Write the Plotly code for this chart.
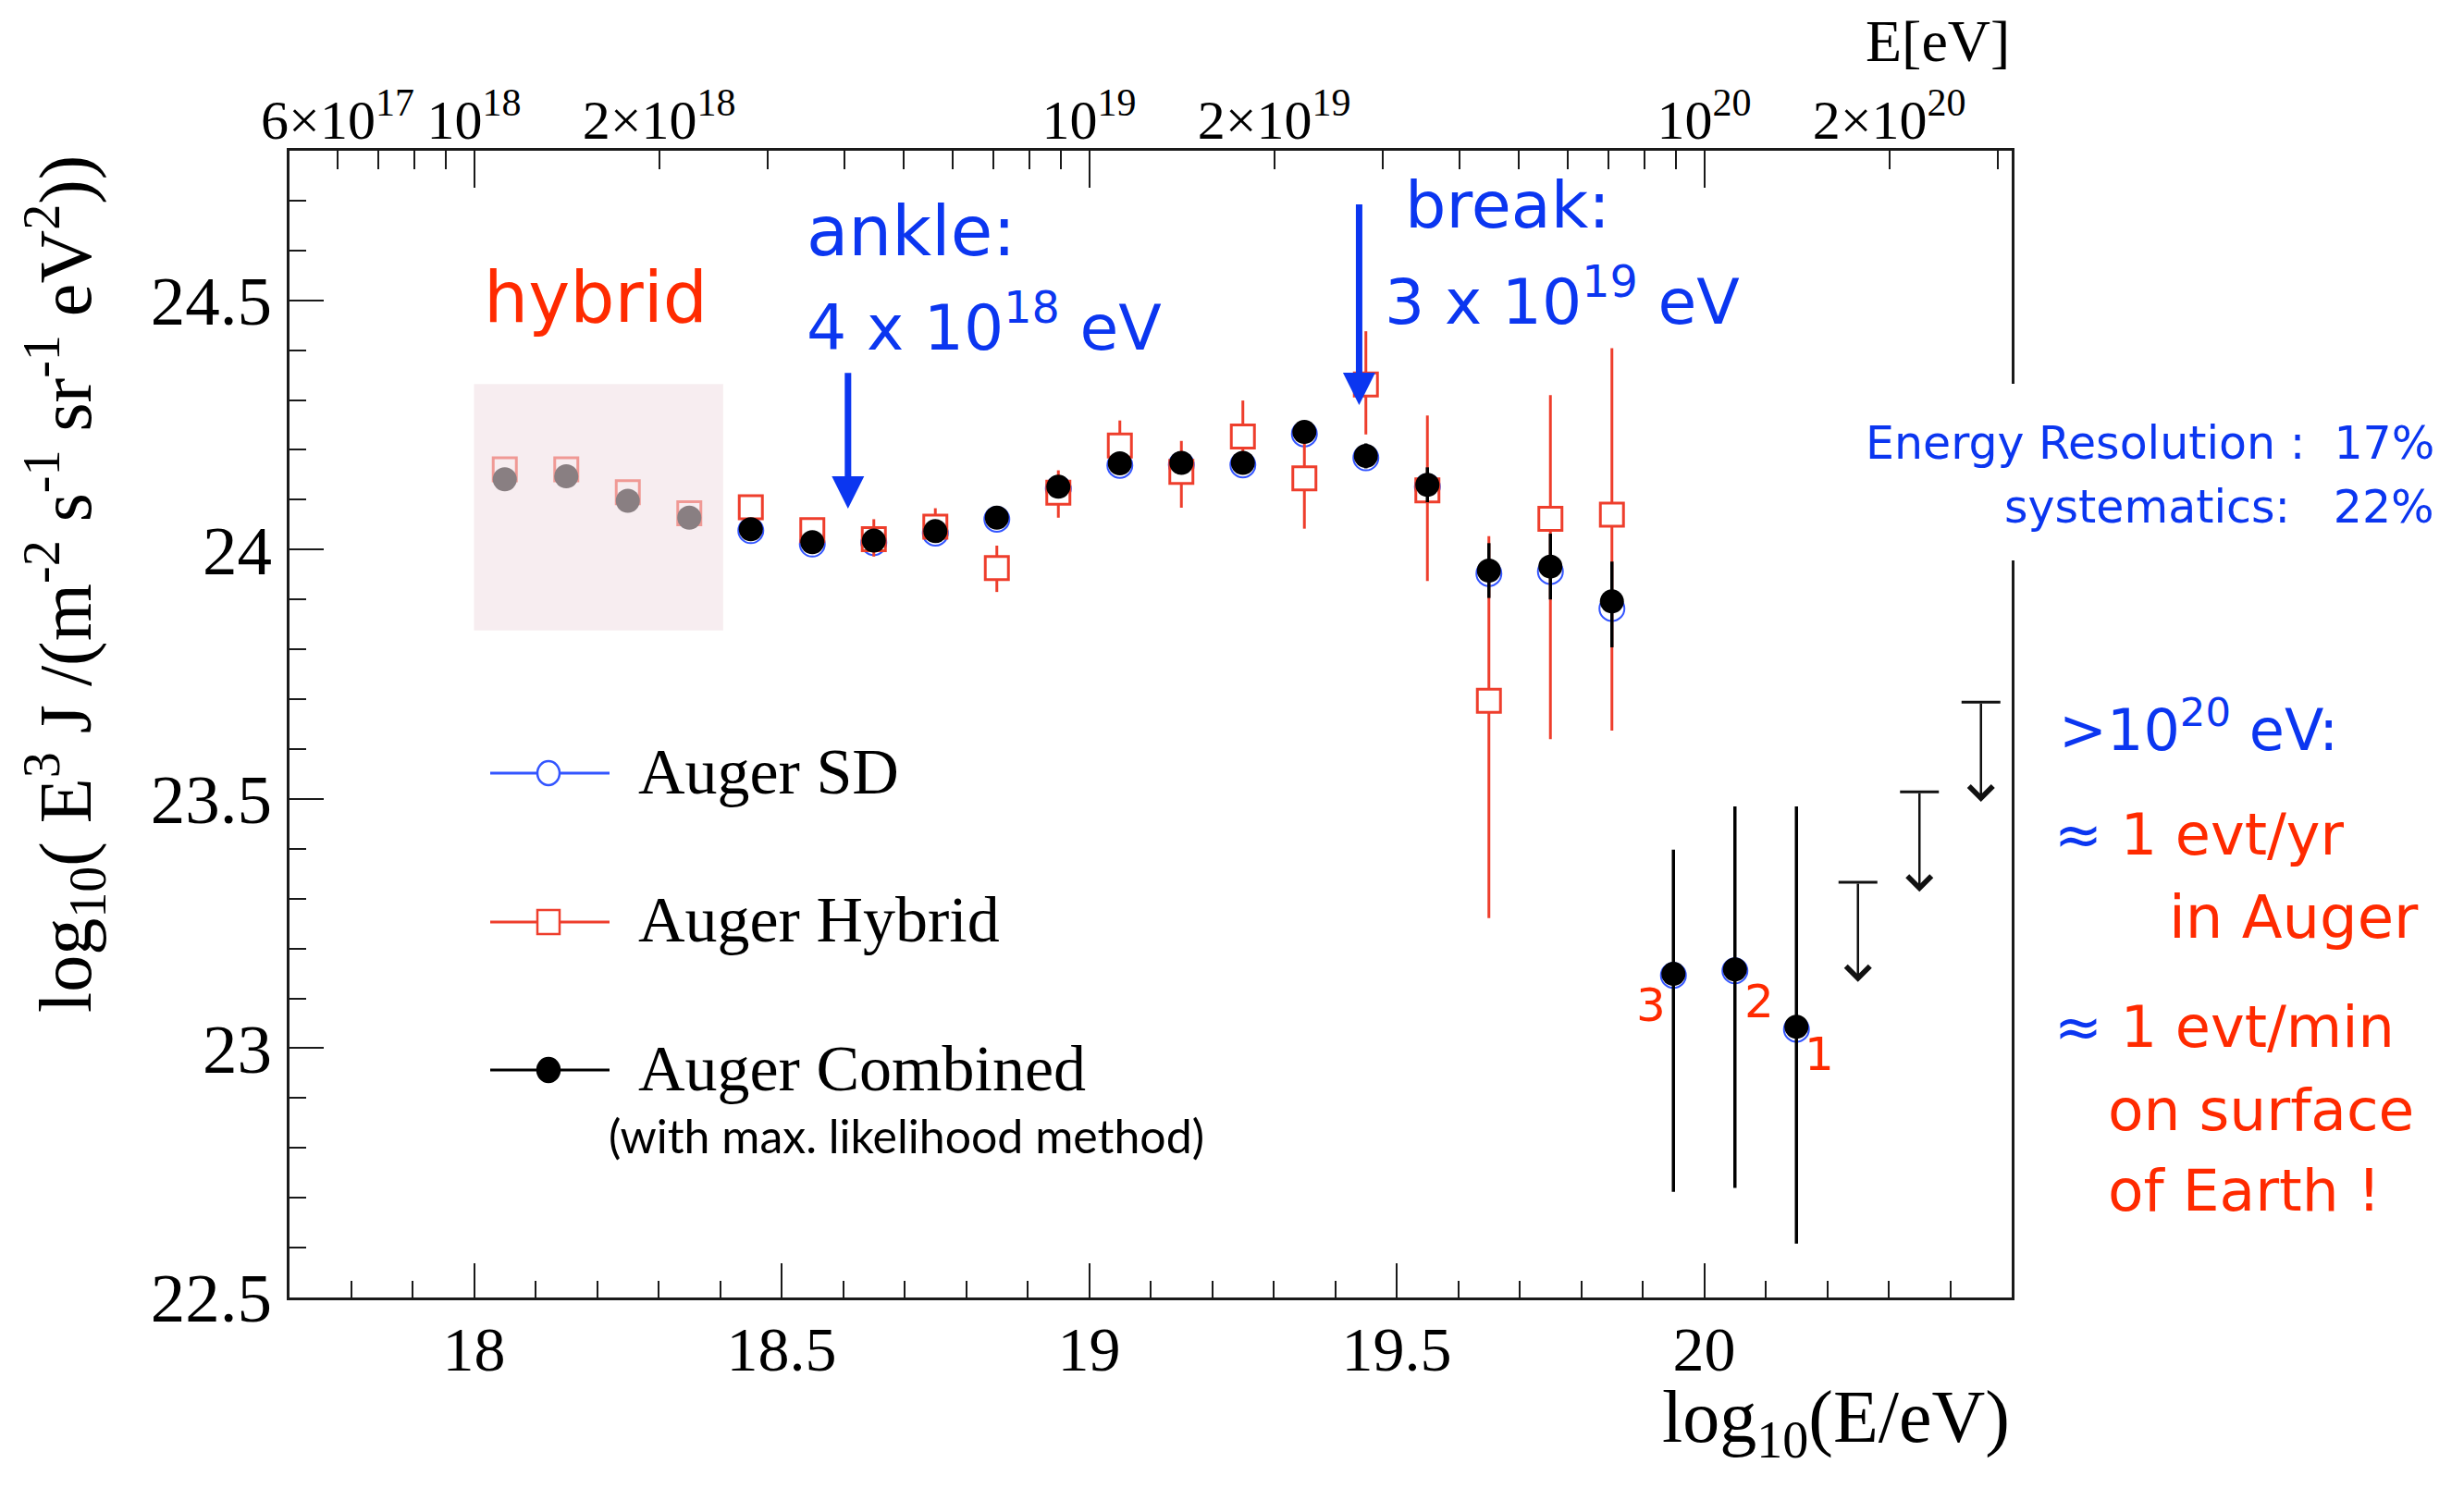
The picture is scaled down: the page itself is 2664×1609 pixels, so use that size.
import numpy as np
import plotly.graph_objects as go

# ---------------- data ----------------
# bin centres, log10(E/eV)
combined_log_e = [18.05, 18.15, 18.25, 18.35, 18.45, 18.55, 18.65, 18.75, 18.85, 18.95, 19.05,
                  19.15, 19.25, 19.35, 19.45, 19.55, 19.65, 19.75, 19.85, 19.95, 20.05, 20.15]
combined_flux = [24.141, 24.147, 24.098, 24.064, 24.041, 24.015, 24.018, 24.037, 24.064, 24.126, 24.173,
                 24.174, 24.174, 24.236, 24.188, 24.130, 23.958, 23.966, 23.896, 23.149, 23.158, 23.043]
combined_err_up = [0.01, 0.01, 0.01, 0.01, 0.01, 0.01, 0.01, 0.01, 0.01, 0.01, 0.015,
                   0.015, 0.015, 0.02, 0.025, 0.035, 0.055, 0.066, 0.080, 0.249, 0.327, 0.442]
combined_err_down = [0.01, 0.01, 0.01, 0.01, 0.01, 0.01, 0.01, 0.01, 0.01, 0.01, 0.015,
                     0.015, 0.015, 0.02, 0.025, 0.035, 0.055, 0.066, 0.092, 0.437, 0.438, 0.435]

hybrid_log_e = [18.05, 18.15, 18.25, 18.35, 18.45, 18.55, 18.65, 18.75, 18.85, 18.95,
                19.05, 19.15, 19.25, 19.35, 19.45, 19.55, 19.65, 19.75, 19.85]
hybrid_flux = [24.161, 24.161, 24.115, 24.073, 24.085, 24.039, 24.021, 24.046, 23.963, 24.114,
               24.209, 24.156, 24.227, 24.143, 24.331, 24.119, 23.697, 24.062, 24.070]
hybrid_err_up = [0.02, 0.02, 0.02, 0.02, 0.02, 0.02, 0.040, 0.037, 0.045, 0.045,
                 0.050, 0.062, 0.072, 0.100, 0.107, 0.150, 0.330, 0.248, 0.334]
hybrid_err_down = [0.02, 0.02, 0.02, 0.02, 0.02, 0.02, 0.035, 0.030, 0.048, 0.050,
                   0.050, 0.072, 0.060, 0.101, 0.100, 0.182, 0.436, 0.442, 0.433]

sd_log_e = [18.45, 18.55, 18.65, 18.75, 18.85, 18.95, 19.05, 19.15, 19.25,
            19.35, 19.45, 19.55, 19.65, 19.75, 19.85, 19.95, 20.05, 20.15]
sd_flux = [24.038, 24.011, 24.014, 24.033, 24.061, 24.122, 24.169, 24.170, 24.170,
           24.232, 24.184, 24.126, 23.952, 23.956, 23.882, 23.146, 23.155, 23.038]

# upper limits above 10^20.2 eV
limit_log_e = [20.25, 20.35, 20.45]
limit_flux = [23.333, 23.514, 23.694]
LIMIT_ARROW = 0.2

# axis ticks
x_major = [18.0, 18.5, 19.0, 19.5, 20.0]
x_major_text = ["18", "18.5", "19", "19.5", "20"]
y_major = [22.5, 23.0, 23.5, 24.0, 24.5]
y_major_text = ["22.5", "23", "23.5", "24", "24.5"]

energy_labelled = [6e17, 1e18, 2e18, 1e19, 2e19, 1e20, 2e20]
energy_labels = ["6×10<sup>17</sup>", "10<sup>18</sup>", "2×10<sup>18</sup>", "10<sup>19</sup>",
                 "2×10<sup>19</sup>", "10<sup>20</sup>", "2×10<sup>20</sup>"]
energy_decades = [1e18, 1e19, 1e20]
energy_minor = [7e17, 8e17, 9e17, 3e18, 4e18, 5e18, 6e18, 7e18, 8e18, 9e18,
                3e19, 4e19, 5e19, 6e19, 7e19, 8e19, 9e19, 3e20]

# ---------------- styling ----------------
W, H = 2664, 1609
L, R, T, B = 313, 2175, 163, 1403          # plot frame in pixels
XR = [17.7, 20.5]
YR = [22.5, 24.8]

RED = "#EE3E2C"
SD_BLUE = "#3355FF"
INK_BLUE = "#0B36F0"
INK_RED = "#FF2A00"
AXIS = "#1a1a1a"
SERIF = "Liberation Serif"
HAND = "DejaVu Sans"


def px(X):
    return (X - L) / (R - L)


def py(Y):
    return (B - Y) / (B - T)


fig = go.Figure()

fig.add_trace(go.Scatter(
    x=sd_log_e, y=sd_flux, mode="markers", showlegend=False, hoverinfo="skip",
    marker=dict(symbol="circle-open", size=27, color=SD_BLUE, line=dict(width=2, color=SD_BLUE)),
))

fig.add_trace(go.Scatter(
    x=hybrid_log_e, y=hybrid_flux, mode="markers", showlegend=False, hoverinfo="skip",
    marker=dict(symbol="square", size=25, color="white", line=dict(width=3, color=RED)),
    error_y=dict(type="data", array=hybrid_err_up, arrayminus=hybrid_err_down,
                 color=RED, thickness=3, width=0),
))

fig.add_trace(go.Scatter(
    x=combined_log_e, y=combined_flux, mode="markers", showlegend=False, hoverinfo="skip",
    marker=dict(symbol="circle", size=26, color="black"),
    error_y=dict(type="data", array=combined_err_up, arrayminus=combined_err_down,
                 color="black", thickness=3.5, width=0),
))

# caps of the upper limits
fig.add_trace(go.Scatter(
    x=limit_log_e, y=limit_flux, mode="markers", showlegend=False, hoverinfo="skip",
    marker=dict(symbol="line-ew", size=30, line=dict(width=3, color="#111111")),
))

# empty traces so that the energy axes on top are drawn
for ax in ("x2", "x3"):
    fig.add_trace(go.Scatter(x=[None], y=[None], xaxis=ax, yaxis="y",
                             showlegend=False, hoverinfo="skip"))

annotations = []

# upper limit arrows
for xv, yv in zip(limit_log_e, limit_flux):
    annotations.append(dict(
        x=xv, y=yv - LIMIT_ARROW, ax=xv, ay=yv, xref="x", yref="y", axref="x", ayref="y",
        text="", showarrow=True, arrowhead=4, arrowsize=2.0, arrowwidth=2.5,
        arrowcolor="#111111", standoff=0, startstandoff=0,
    ))

# ankle and break arrows
for xv, tip, tail in [(18.608, 24.082, 24.357), (19.439, 24.290, 24.695)]:
    annotations.append(dict(
        x=xv, y=tip, ax=xv, ay=tail, xref="x", yref="y", axref="x", ayref="y",
        text="", showarrow=True, arrowhead=2, arrowsize=1.0, arrowwidth=7,
        arrowcolor=INK_BLUE, standoff=0, startstandoff=0,
    ))


def note(text, X, Y, size, color, family=HAND, xanchor="left", angle=0):
    annotations.append(dict(
        text=text, x=px(X), y=py(Y), xref="paper", yref="paper", showarrow=False,
        xanchor=xanchor, yanchor="middle", textangle=angle,
        font=dict(family=family, size=size, color=color),
    ))


# handwritten notes
note("hybrid", 644, 322, 76, INK_RED, xanchor="center")
note("ankle:", 870, 250, 74, INK_BLUE)
note("4 x 10<sup>18</sup> eV", 870, 350, 68, INK_BLUE)
note("break:", 1517, 222, 70, INK_BLUE)
note("3 x 10<sup>19</sup> eV", 1495, 322, 68, INK_BLUE)
note("Energy Resolution :  17%", 2634, 479, 49, INK_BLUE, xanchor="right")
note("systematics:   22%", 2634, 548, 49, INK_BLUE, xanchor="right")
note("&gt;10<sup>20</sup> eV:", 2224, 785, 62, INK_BLUE)
approx = '<span style="color:%s">≈</span> ' % INK_BLUE
note(approx + "1 evt/yr", 2219, 902, 62, INK_RED)
note("in Auger", 2343, 992, 64, INK_RED)
note(approx + "1 evt/min", 2219, 1110, 62, INK_RED)
note("on surface", 2277, 1200, 63, INK_RED)
note("of Earth !", 2277, 1287, 63, INK_RED)
note("3", 1785, 1087, 50, INK_RED, xanchor="center")
note("2", 1902, 1083, 50, INK_RED, xanchor="center")
note("1", 1967, 1140, 50, INK_RED, xanchor="center")

# axis titles
note("E[eV]", 2175, 44, 64, "black", family=SERIF, xanchor="right")
note("log<sub>10</sub>(E/eV)", 2175, 1538, 80, "black", family=SERIF, xanchor="right")
note("log<sub>10</sub>( E<sup>3</sup> J /(m<sup>-2</sup> s<sup>-1</sup> sr<sup>-1</sup> eV<sup>2</sup>))",
     70, 632, 80, "black", family=SERIF, xanchor="center", angle=-90)

# legend
legend_rows = [
    ("Auger SD", 836, SD_BLUE, "circle", "white"),
    ("Auger Hybrid", 997, RED, "rect", "white"),
    ("Auger Combined", 1157, "black", "circle", "black"),
]
shapes = []
# translucent band over the hybrid-only region
shapes.append(dict(type="rect", xref="x", yref="y", x0=18.0, x1=18.405, y0=23.838, y1=24.332,
                   fillcolor="rgba(241,223,229,0.57)", line=dict(width=0), layer="above"))
# white backing of the resolution note
shapes.append(dict(type="rect", xref="paper", yref="paper", x0=px(2000), x1=px(2664),
                   y0=py(606), y1=py(415), fillcolor="white", line=dict(width=0), layer="above"))

for label, Y, col, kind, fill in legend_rows:
    shapes.append(dict(type="line", xref="paper", yref="paper", x0=px(530), x1=px(659),
                       y0=py(Y), y1=py(Y), line=dict(color=col, width=3), layer="above"))
    shapes.append(dict(type=kind, xref="paper", yref="paper", xsizemode="pixel", ysizemode="pixel",
                       xanchor=px(593), yanchor=py(Y), x0=-12, x1=12, y0=-13, y1=13,
                       fillcolor=fill, line=dict(color=col, width=2.5), layer="above"))
    note(label, 688, Y - 2, 70, "black", family=SERIF)
note("(with max. likelihood method)", 980, 1228, 50, "black", family="Lato", xanchor="center")

fig.update_layout(
    width=W, height=H,
    margin=dict(l=L, r=W - R, t=T, b=H - B, pad=0),
    paper_bgcolor="white", plot_bgcolor="white",
    showlegend=False,
    annotations=annotations,
    shapes=shapes,
    xaxis=dict(
        range=XR, showgrid=False, zeroline=False, showline=True, linewidth=3, linecolor=AXIS,
        ticks="inside", tickvals=x_major, ticktext=x_major_text, ticklen=37, tickwidth=2,
        tickcolor=AXIS, ticklabelstandoff=-6,
        tickfont=dict(family=SERIF, size=68, color="black"),
        minor=dict(tickvals=[v for v in np.round(np.arange(17.8, 20.45, 0.1), 1) if v not in x_major],
                   ticks="inside", ticklen=18, tickwidth=2, tickcolor=AXIS, showgrid=False),
    ),
    xaxis2=dict(
        range=XR, overlaying="x", side="top", anchor="y", showgrid=False, zeroline=False,
        showline=True, linewidth=3, linecolor=AXIS,
        ticks="inside", tickvals=list(np.log10(energy_labelled)), ticktext=energy_labels,
        ticklen=20, tickwidth=2, tickcolor=AXIS, ticklabelstandoff=-14,
        tickfont=dict(family=SERIF, size=60, color="black"),
        minor=dict(tickvals=list(np.log10(energy_minor)), ticks="inside", ticklen=20,
                   tickwidth=2, tickcolor=AXIS, showgrid=False),
    ),
    xaxis3=dict(
        range=XR, overlaying="x", side="top", anchor="y", showgrid=False, zeroline=False,
        showline=False, showticklabels=False,
        ticks="inside", tickvals=list(np.log10(energy_decades)), ticklen=40, tickwidth=2,
        tickcolor=AXIS,
    ),
    yaxis=dict(
        range=YR, showgrid=False, zeroline=False, showline=True, mirror=True, linewidth=3,
        linecolor=AXIS, ticks="inside", tickvals=y_major, ticktext=y_major_text,
        ticklen=37, tickwidth=2, tickcolor=AXIS, ticklabelstandoff=1,
        tickfont=dict(family=SERIF, size=75, color="black"),
        minor=dict(tickvals=[v for v in np.round(np.arange(22.6, 24.75, 0.1), 1) if v not in y_major],
                   ticks="inside", ticklen=18, tickwidth=2, tickcolor=AXIS, showgrid=False),
    ),
)

fig.write_html("out.html")
